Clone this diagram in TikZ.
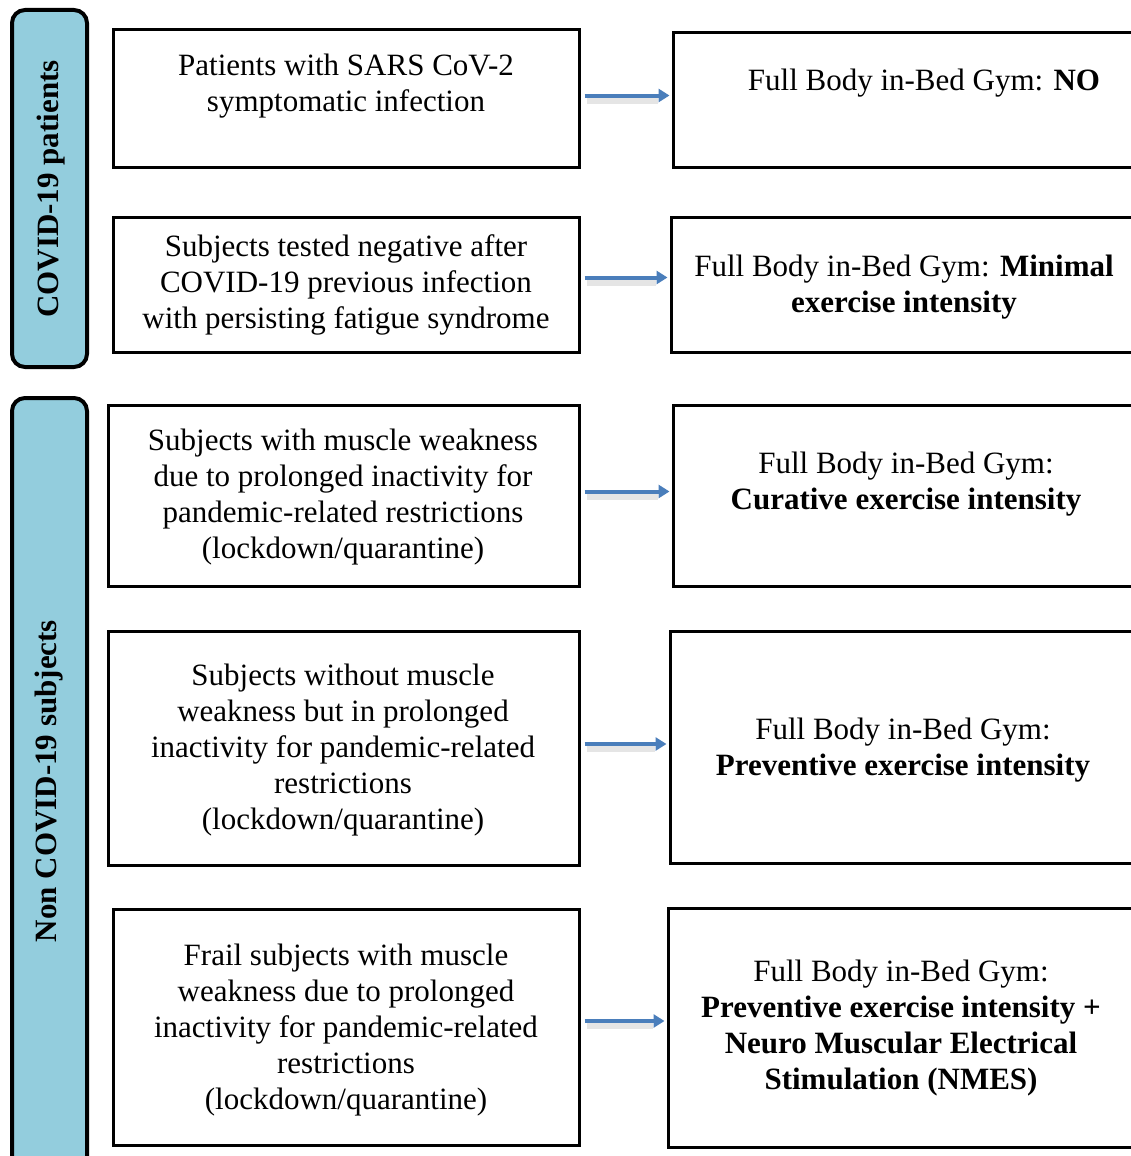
\documentclass[tikz,border=0pt]{standalone}
\usepackage{fontspec}
\setmainfont{Liberation Serif}
\usetikzlibrary{arrows.meta}
\definecolor{barblue}{HTML}{93CDDD}
\definecolor{arrblue}{HTML}{4A7EBB}
\begin{document}
\begin{tikzpicture}[x=1pt,y=-1pt,
  box/.style={draw=black, line width=3pt, rectangle, inner sep=0pt},
  bar/.style={draw=black, line width=4pt, fill=barblue, rounded corners=13pt, inner sep=0pt},
  txt/.style={align=center, font=\fontsize{31}{36}\selectfont, inner sep=0pt},
  bartxt/.style={font=\fontsize{31}{36}\selectfont\bfseries, rotate=90, inner sep=0pt},
  arr/.style={draw=arrblue, line width=4pt, -{Triangle[length=11pt,width=13pt]}},
  shd/.style={draw=black!10, line width=6pt}]
\clip (0,0) rectangle (1131,1156);
\fill[white] (0,0) rectangle (1131,1156);
% bars
\node[bar, minimum width=75pt, minimum height=357pt] (B1) at (49.5,188.5) {};
\node[bar, minimum width=75pt, minimum height=790pt] (B2) at (49.5,793) {};
\node[bartxt] (BT1) at (51,189) {COVID-19 patients};
\node[bartxt] (BT2) at (49,781) {Non COVID-19 subjects};
% left boxes
\node[box, minimum width=466pt, minimum height=137pt] (L1) at (346,98.5) {};
\node[box, minimum width=466pt, minimum height=135pt] (L2) at (346,284.5) {};
\node[box, minimum width=471pt, minimum height=181pt] (L3) at (343.5,495.5) {};
\node[box, minimum width=471pt, minimum height=234pt] (L4) at (343.5,748) {};
\node[box, minimum width=466pt, minimum height=236pt] (L5) at (346,1027) {};
% right boxes
\node[box, minimum width=500pt, minimum height=134pt] (R1) at (923,100) {};
\node[box, minimum width=500pt, minimum height=135pt] (R2) at (921,284.5) {};
\node[box, minimum width=500pt, minimum height=181pt] (R3) at (923,495.5) {};
\node[box, minimum width=500pt, minimum height=232pt] (R4) at (920,747) {};
\node[box, minimum width=500pt, minimum height=239pt] (R5) at (918,1027.5) {};
% left texts
\node[txt] (LT1) at (346,86) {Patients with SARS CoV-2\\symptomatic infection};
\node[txt] (LT2) at (346,285) {Subjects tested negative after\\COVID-19 previous infection\\with persisting fatigue syndrome};
\node[txt] (LT3) at (343,497) {Subjects with muscle weakness\\due to prolonged inactivity for\\pandemic-related restrictions\\(lockdown/quarantine)};
\node[txt] (LT4) at (343,750) {Subjects without muscle\\weakness but in prolonged\\inactivity for pandemic-related\\restrictions\\(lockdown/quarantine)};
\node[txt] (LT5) at (346,1030) {Frail subjects with muscle\\weakness due to prolonged\\inactivity for pandemic-related\\restrictions\\(lockdown/quarantine)};
% right texts
\node[txt] (RT1) at (924,83) {Full Body in-Bed Gym: \textbf{NO}};
\node[txt] (RT2) at (904,287) {Full Body in-Bed Gym: \textbf{Minimal}\\\textbf{exercise intensity}};
\node[txt] (RT3) at (906,484) {Full Body in-Bed Gym:\\\textbf{Curative exercise intensity}};
\node[txt] (RT4) at (903,750) {Full Body in-Bed Gym:\\\textbf{Preventive exercise intensity}};
\node[txt] (RT5) at (901,1028) {Full Body in-Bed Gym:\\\textbf{Preventive exercise intensity +}\\\textbf{Neuro Muscular Electrical}\\\textbf{Stimulation (NMES)}};
% arrows
\foreach \a/\b/\dy in {L1/R1/3, L2/R2/7, L3/R3/4, L4/R4/4, L5/R5/6}{
  \coordinate (s) at ([xshift=4pt,yshift=\dy pt]\a.east);
  \coordinate (t) at ([xshift=-2pt]\b.west);
  \draw[shd] ([xshift=2pt,yshift=-5pt]s) -- ([xshift=-12pt,yshift=-5pt]s -| t);
  \draw[arr] (s) -- (s -| t);
}
\end{tikzpicture}
\end{document}
